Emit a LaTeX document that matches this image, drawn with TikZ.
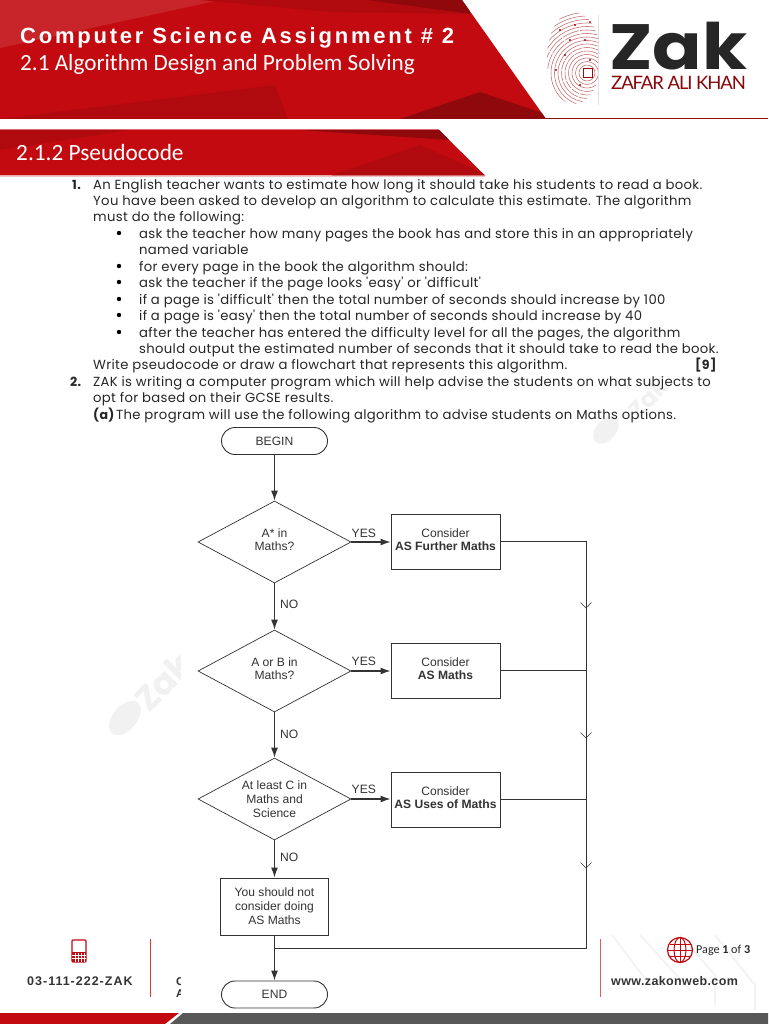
\documentclass[tikz,border=0pt]{standalone}
\usepackage{fontspec}
\setmainfont{Liberation Sans}
\newfontfamily\bodyf[LetterSpace=2.5]{Poppins}
\newfontfamily\headf[LetterSpace=12.6]{Liberation Sans}
\newfontfamily\subf{Carlito}
\newfontfamily\zakf{Poppins}
\newfontfamily\zafarf[LetterSpace=-6]{Lato}
\newfontfamily\footf[LetterSpace=3]{Liberation Sans}
\newfontfamily\phonef[LetterSpace=8]{Liberation Sans}
\usetikzlibrary{shapes.geometric,arrows.meta,calc}
\definecolor{zred}{HTML}{C20A10}
\definecolor{zdark}{HTML}{8F080C}
\definecolor{zmid}{HTML}{B00A0E}
\definecolor{zlite}{HTML}{C8252B}
\definecolor{zink}{HTML}{333333}
\definecolor{zgrey}{HTML}{585858}
\definecolor{zmark}{HTML}{F1F1F1}
\definecolor{zprint}{HTML}{C46A6A}
\newcommand\ztwo[2]{\vbox{\hbox{\begin{tabular}{@{}c@{}}#1\\[-1pt]#2\end{tabular}}\kern1.5pt}}
\tikzset{
  bodyt/.style={anchor=base west,inner sep=0pt,font=\bodyf\fontsize{13.2}{15}\selectfont,text=black!85},
  numt/.style={bodyt,font=\bodyf\bfseries\fontsize{12.6}{15}\selectfont},
  bul/.style={circle,fill=black,inner sep=0pt,minimum size=4.4pt},
  chartt/.style={font=\fontsize{12.1}{14}\selectfont,text=zink,align=center},
  term/.style={draw=zink,line width=.9pt,rounded corners=13.5pt,minimum width=106pt,minimum height=27pt,inner sep=0pt,chartt},
  stepbox/.style={draw=zink,line width=1pt,minimum width=109pt,minimum height=55pt,inner sep=0pt,chartt},
  decide/.style={draw=zink,line width=.7pt,diamond,shape aspect=1.866,minimum width=153pt,minimum height=82pt,inner sep=0pt,chartt},
  flow/.style={draw=zink,line width=1.2pt,-{Latex[length=10pt,width=7pt]}},
  plainline/.style={draw=zink,line width=1pt},
  lab/.style={inner sep=0pt,font=\fontsize{12.1}{14}\selectfont,text=zink},
}
\begin{document}
\begin{tikzpicture}[x=1pt,y=-1pt]
\useasboundingbox (0,0) rectangle (768,1024);
\fill[white] (0,0) rectangle (768,1024);
% watermarks
\begin{scope}
 \clip (100,640) rectangle (180.5,740);
 \fill[zmark] (125,718) ellipse [x radius=12pt,y radius=20pt,rotate=-40];
 \node[rotate=45,inner sep=0pt,text=zmark,font=\zakf\bfseries\fontsize{34}{34}\selectfont] (wmA) at (163,682) {Zak};
\end{scope}
\fill[zmark] (606,430) ellipse [x radius=10pt,y radius=16pt,rotate=-40];
\node[rotate=45,inner sep=0pt,text=zmark,font=\zakf\bfseries\fontsize{24}{24}\selectfont] (wmB) at (648,398) {Zak};
\draw[zmark,line width=1.5pt] (612,935) -- (650,985) (640,935) -- (690,990) (680,935)--(715,975)--(715,1005) (715,935)--(755,985)--(755,1010);
% header band
\begin{scope}
 \clip (0,0) -- (462,0) -- (546,119) -- (0,119) -- cycle;
 \fill[zred] (0,0) rectangle (560,119);
 \fill[zlite] (0,0) -- (220,0) -- (0,48) -- cycle;
 \fill[zdark] (365,0) -- (470,0) -- (470,14) -- cycle;
 \fill[zmid] (0,119) -- (275,85) -- (288,119) -- cycle;
 \fill[zdark] (400,119) -- (480,92) -- (560,119) -- cycle;
 \fill[zmid] (200,0) -- (365,0) -- (470,14) -- (330,12) -- cycle;
\end{scope}
\draw[zdark,line width=.8pt] (546,118.7) -- (768,118.7);
\node[anchor=base west,inner sep=0pt,text=white,font=\headf\bfseries\fontsize{22}{24}\selectfont] (title) at (20,44) {Computer Science Assignment \# 2};
\node[anchor=base west,inner sep=0pt,text=white,font=\subf\fontsize{23.2}{24}\selectfont] (subtitle) at (20,71) {2.1 Algorithm Design and Problem Solving};
% section band
\begin{scope}
 \clip (0,130) -- (439,130) -- (485,175.5) -- (0,175.5) -- cycle;
 \fill[zred] (0,130) rectangle (490,176);
 \fill[zmid] (0,130) -- (130,130) -- (0,150) -- cycle;
 \fill[zmid] (330,176) -- (420,145) -- (490,176) -- cycle;
 \fill[zdark] (300,130) -- (440,130) -- (450,140) -- cycle;
\end{scope}
\draw[zred!60,line width=.6pt] (0,129.3) -- (439,129.3);
\draw[zred!25,line width=.8pt] (0,176.3) -- (485,176.3);
\node[anchor=base west,inner sep=0pt,text=white,font=\subf\fontsize{23.3}{26}\selectfont] (section) at (16,161) {2.1.2 Pseudocode};
% logo
\begin{scope}
 \clip (574,58) ellipse [x radius=27pt,y radius=46pt];
 \clip (540,5) rectangle (598,110);
 \foreach \r in {8,11.5,...,80} {
   \draw[zprint,line width=.55pt] (587,73) circle (\r pt);
 }
 \foreach \a in {100,125,...,290} {
   \draw[white,line width=.8pt] (587,73) ++(\a:20pt) -- ++(\a:6pt) ++(\a:12pt) -- ++(\a:7pt);
 }
 \foreach \a/\b in {560/30,575/25,585/40,565/55,590/60,556/70,580/85,570/40,590/22} {\fill[zred!80!black] (\a,\b) circle (1.1pt);}
 \draw[zred!80!black,line width=1pt,fill=white] (583,69) rectangle (592,78);
\end{scope}
\draw[black!12,line width=.6pt] (598,15) -- (598,105);
\node[anchor=base west,inner sep=0pt,text=black!85,font=\zakf\bfseries\fontsize{64}{64}\selectfont] (zak) at (609,70) {\scalebox{1.14}[1]{Zak}};
\node[anchor=base west,inner sep=0pt,text=zred!70!black,font=\zafarf\fontsize{18.5}{20}\selectfont] (zafar) at (611,90) {ZAFAR ALI KHAN};
% body
\node[numt] (n1) at (72,190) {1.};
\node[bodyt] (t1) at (93,190) {An English teacher wants to estimate how long it should take his students to read a book.};
\node[bodyt] (t2) at (93,206) {You have been asked to develop an algorithm to calculate this estimate. The algorithm};
\node[bodyt] (t3) at (93,222) {must do the following:};
\node[bul] (b1) at (119,233) {};
\node[bodyt] (t4) at (139,238) {ask the teacher how many pages the book has and store this in an appropriately};
\node[bodyt] (t5) at (139,254) {named variable};
\node[bul] (b2) at (119,266) {};
\node[bodyt] (t6) at (139,271) {for every page in the book the algorithm should:};
\node[bul] (b3) at (119,282) {};
\node[bodyt] (t7) at (139,287) {ask the teacher if the page looks 'easy' or 'difficult'};
\node[bul] (b4) at (119,299) {};
\node[bodyt] (t8) at (139,304) {if a page is 'difficult' then the total number of seconds should increase by 100};
\node[bul] (b5) at (119,315) {};
\node[bodyt] (t9) at (139,320) {if a page is 'easy' then the total number of seconds should increase by 40};
\node[bul] (b6) at (119,332) {};
\node[bodyt] (t10) at (139,337) {after the teacher has entered the difficulty level for all the pages, the algorithm};
\node[bodyt] (t11) at (139,353) {should output the estimated number of seconds that it should take to read the book.};
\node[bodyt] (t12) at (93,369) {Write pseudocode or draw a flowchart that represents this algorithm.};
\node[numt] (mk) at (695,369) {[9]};
\node[numt] (n2) at (70,386) {2.};
\node[bodyt] (t13) at (93,386) {ZAK is writing a computer program which will help advise the students on what subjects to};
\node[bodyt] (t14) at (93,402) {opt for based on their GCSE results.};
\node[numt] (pa) at (93,419) {(a)};
\node[bodyt] (t15) at (116,419) {The program will use the following algorithm to advise students on Maths options.};
% footer
\fill[zred] (0,1013) -- (179,1013) -- (165,1024) -- (0,1024) -- cycle;
\fill[zgrey] (183,1013) -- (768,1013) -- (768,1024) -- (170,1024) -- cycle;
\draw[zred!80,line width=.9pt] (150,939) -- (150,997);
\draw[zred!65,line width=.9pt] (600,939) -- (600,997);
\draw[zred,line width=1.3pt,rounded corners=1pt] (72,940) rectangle (86,962);
\fill[zred] (72,952) rectangle (86,962);
\foreach \x in {75,78,81,84} {\draw[white,line width=.4pt] (\x,953) -- (\x,962);}
\foreach \y in {955,958} {\draw[white,line width=.4pt] (72,\y) -- (86,\y);}
\node[anchor=base west,inner sep=0pt,text=zink,font=\phonef\bfseries\fontsize{12.5}{14}\selectfont] (phone) at (27,985.5) {03-111-222-ZAK};
\begin{scope}
 \clip (170,970) rectangle (180.5,1000);
 \node[anchor=base west,inner sep=0pt,text=zink,font=\bfseries\fontsize{11.3}{14}\selectfont] (cutc) at (176,985) {C};
 \node[anchor=base west,inner sep=0pt,text=zink,font=\bfseries\fontsize{11.3}{14}\selectfont] (cuta) at (176,997) {A};
\end{scope}
\draw[zred,line width=1.2pt] (680,950) circle (12.5pt);
\draw[zred,line width=1pt] (680,950) ellipse [x radius=6pt,y radius=12.5pt];
\draw[zred,line width=1pt] (680,937.5) -- (680,962.5) (667.5,950) -- (692.5,950) (669.5,944) -- (690.5,944) (669.5,956) -- (690.5,956);
\node[anchor=base west,inner sep=0pt,text=black!85,font=\subf\fontsize{12.1}{14}\selectfont] (page) at (696,953) {Page \textbf{1} of \textbf{3}};
\node[anchor=base west,inner sep=0pt,text=zink,font=\footf\bfseries\fontsize{12.5}{14}\selectfont] (web) at (611,985.5) {www.zakonweb.com};
% flowchart
\node[term] (begin) at (274.5,441) {BEGIN};
\node[decide] (d1) at (274.5,542) {\ztwo{A* in}{Maths?}};
\node[decide] (d2) at (274.5,671) {\ztwo{A or B in}{Maths?}};
\node[decide] (d3) at (274.5,799) {At least C in\\Maths and\\Science};
\node[stepbox] (p1) at (445.5,541.5) {\ztwo{Consider}{\textbf{AS Further Maths}}};
\node[stepbox] (p2) at (445.5,670.5) {\ztwo{Consider}{\textbf{AS Maths}}};
\node[stepbox] (p3) at (445.5,799.5) {\ztwo{Consider}{\textbf{AS Uses of Maths}}};
\node[stepbox,minimum height=57pt,minimum width=108pt] (p4) at (274.5,906.5) {You should not\\consider doing\\AS Maths};
\node[term] (end) at (274.5,994.5) {END};
\coordinate (jr) at (586,948);
\coordinate (jl) at (274.5,948);
\coordinate (v1) at (586,608);
\coordinate (v2) at (586,738);
\coordinate (v3) at (586,868);
\draw[flow] (begin) -- (d1);
\draw[flow] (d1) -- (d2);
\draw[flow] (d2) -- (d3);
\draw[flow] (d3) -- (p4);
\draw[flow] (p4) -- (end);
\draw[flow] (d1) -- (p1.west |- d1);
\draw[flow] (d2) -- (p2.west |- d2);
\draw[flow] (d3) -- (p3.west |- d3);
\draw[plainline] (p1.east) -- (p1.east -| jr) -- (jr) -- (jl);
\draw[plainline] (p2.east) -- (p2.east -| jr);
\draw[plainline] (p3.east) -- (p3.east -| jr);
\foreach \v in {v1,v2,v3} {
  \draw[plainline,line width=.6pt] ($(\v)+(-5.5,-5.5)$) -- (\v) -- ($(\v)+(5.5,-5.5)$);
}
\node[lab,anchor=base west] (y1) at (351.5,537.5) {YES};
\node[lab,anchor=base west] (y2) at (351.5,665.5) {YES};
\node[lab,anchor=base west] (y3) at (351.5,793.5) {YES};
\node[lab,anchor=base west] (no1) at (280,608.5) {NO};
\node[lab,anchor=base west] (no2) at (280,738) {NO};
\node[lab,anchor=base west] (no3) at (280,861.5) {NO};
\end{tikzpicture}
\end{document}
